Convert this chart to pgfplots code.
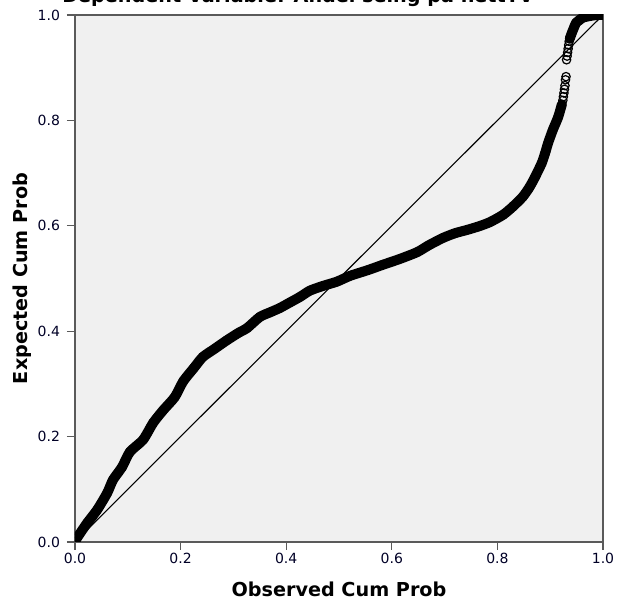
\documentclass[border=0pt]{standalone}
\usepackage{pgfplots}
\pgfplotsset{compat=1.18}
\usepackage{fontspec}
\setmainfont{DejaVu Sans}
\definecolor{bgGray}{HTML}{F0F0F0}
\definecolor{frameGray}{HTML}{5A5A5A}

\begin{document}
\begin{tikzpicture}
\begin{axis}[name=pp,scale only axis,width=264pt,height=263.5pt,
    xmin=0,xmax=1,ymin=0,ymax=1,
    xtick={0,0.2,...,1.0},ytick={0,0.2,...,1.0},
    /pgf/number format/.cd,fixed,fixed zerofill,precision=1,assume math mode=true,/pgfplots/.cd,
    tick align=outside,major tick length=4pt,
    tick style={frameGray,line width=0.6pt},
    xtick pos=bottom,ytick pos=left,
    axis line style={frameGray,line width=0.8pt},
    axis background/.style={fill=bgGray},
    clip marker paths=true,
    tick label style={font=\fontsize{7}{8}\selectfont,text=black!85!blue},
    xticklabel style={yshift=2pt},
    label style={font=\bfseries\fontsize{9.6}{11}\selectfont},
    xlabel={Observed Cum Prob},ylabel={Expected Cum Prob},
    xlabel style={at={(axis description cs:0.5,-0.09)},anchor=center},
    ylabel style={at={(axis description cs:-0.10,0.5)},anchor=center,rotate=0}]
% reference diagonal
\addplot[black,line width=0.55pt] coordinates {(0,0)(1,1)};
% dense part of the observed points
\addplot[black,line width=5pt,line join=round,line cap=round,smooth,tension=0.4,
    mark=o,mark size=2.2pt,mark options={line width=0.5pt}] coordinates {
(0,0)(0.004,0.008)(0.023,0.036)(0.042,0.061)(0.061,0.093)(0.072,0.118)
(0.089,0.142)(0.104,0.171)(0.129,0.194)(0.148,0.226)(0.167,0.250)
(0.189,0.275)(0.205,0.305)(0.225,0.330)(0.242,0.351)(0.265,0.367)
(0.288,0.383)(0.310,0.397)(0.326,0.406)(0.350,0.427)(0.370,0.436)
(0.388,0.444)(0.408,0.455)(0.426,0.465)(0.445,0.477)(0.470,0.486)
(0.496,0.494)(0.521,0.505)(0.555,0.516)(0.583,0.526)(0.615,0.537)
(0.648,0.550)(0.670,0.563)(0.697,0.577)(0.720,0.586)(0.742,0.592)
(0.765,0.599)(0.786,0.607)(0.811,0.621)(0.830,0.637)(0.848,0.655)
(0.860,0.672)(0.870,0.690)(0.884,0.719)(0.891,0.740)(0.896,0.757)
(0.905,0.782)(0.915,0.806)(0.922,0.830)};
% sparse points near the top
\addplot[only marks,black,mark=o,mark size=2.1pt,mark options={line width=0.6pt}] coordinates {
(0.924,0.838)(0.925,0.845)(0.926,0.852)(0.927,0.859)(0.928,0.866)
(0.929,0.877)(0.930,0.883)
(0.931,0.915)(0.932,0.922)(0.933,0.929)(0.934,0.936)(0.935,0.943)(0.936,0.950)};
\addplot[black,line width=5pt,line join=round,line cap=round,smooth,tension=0.4,
    mark=o,mark size=2.2pt,mark options={line width=0.5pt}] coordinates {
(0.937,0.955)(0.941,0.966)(0.945,0.976)(0.949,0.985)(0.955,0.990)
(0.962,0.995)(0.975,0.998)(0.988,1.0)(1.0,1.0)};
\end{axis}
\node[anchor=base,font=\bfseries\fontsize{9.6}{11}\selectfont]
    at ([xshift=111.5pt,yshift=6pt]pp.north west) {Dependent Variable: Andel seing på nettTV};
\pgfresetboundingbox
\useasboundingbox ([xshift=-37.5pt,yshift=-33pt]pp.south west) rectangle ([xshift=7pt,yshift=7.5pt]pp.north east);
\end{tikzpicture}
\end{document}
